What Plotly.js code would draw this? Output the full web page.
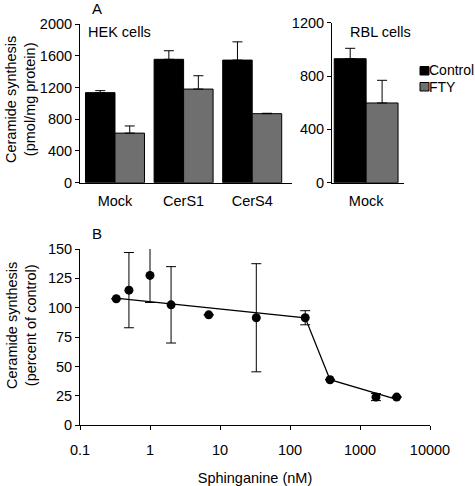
<!DOCTYPE html>
<html>
<head>
<meta charset="utf-8">
<script src="https://cdn.plot.ly/plotly-3.0.1.min.js"></script>
<style>html,body{margin:0;padding:0;background:#fff;}#chart{width:475px;height:486px;}</style>
</head>
<body>
<div id="chart"></div>
<script>
// ---- Data ----
const hekCategories = ['Mock', 'CerS1', 'CerS4'];
const hekControl = [1135, 1555, 1545];
const hekControlErr = [25, 108, 230];
const hekFTY = [625, 1180, 870];
const hekFTYErr = [90, 168, 5];

const rblCategories = ['Mock'];
const rblControl = [930];
const rblControlErr = [78];
const rblFTY = [598];
const rblFTYErr = [170];

const sphinganine = [0.33, 0.5, 1, 2, 6.9, 33, 165, 373, 1690, 3340];
const percentControl = [107.7, 115, 127.5, 102.5, 94, 91.5, 91.5, 38.8, 24, 24];
const percentErr = [0, 32, 23, 32.5, 0, 46, 6, 0, 3, 0];

const fitX = [0.35, 165, 373, 3340];
const fitY = [108, 91.5, 38.8, 22];

const xTickVals = [0.1, 1, 10, 100, 1000, 10000];
const xTickText = ['0.1', '1', '10', '100', '1000', '10000'];

const yTitleA = 'Ceramide synthesis<br>(pmol/mg protein)';
const yTitleB = 'Ceramide synthesis<br>(percent of control)';

// ---- Styles ----
const FONT = 'Liberation Sans, Arial, sans-serif';
const W = 475, H = 486;
const px = v => v / W;
const py = v => 1 - v / H;
const zeros = n => new Array(n).fill(0);
const ctrlColor = '#000000';
const ftyColor = '#6f6f6f';
const bw = 0.43;

function errUp(arr) {
  return {type: 'data', symmetric: false, array: arr, arrayminus: zeros(arr.length),
          color: '#000', thickness: 1, width: 5};
}

const traces = [
  {type: 'bar', name: 'Control', x: hekCategories, y: hekControl, xaxis: 'x', yaxis: 'y',
   width: bw, offset: -bw, marker: {color: ctrlColor, line: {color: '#000', width: 1}},
   error_y: errUp(hekControlErr), showlegend: false},
  {type: 'bar', name: 'FTY', x: hekCategories, y: hekFTY, xaxis: 'x', yaxis: 'y',
   width: bw, offset: 0, marker: {color: ftyColor, line: {color: '#000', width: 1}},
   error_y: errUp(hekFTYErr), showlegend: false},
  {type: 'bar', name: 'Control', x: rblCategories, y: rblControl, xaxis: 'x2', yaxis: 'y2',
   width: bw, offset: -bw, marker: {color: ctrlColor, line: {color: '#000', width: 1}},
   error_y: errUp(rblControlErr), showlegend: false},
  {type: 'bar', name: 'FTY', x: rblCategories, y: rblFTY, xaxis: 'x2', yaxis: 'y2',
   width: bw, offset: 0, marker: {color: ftyColor, line: {color: '#000', width: 1}},
   error_y: errUp(rblFTYErr), showlegend: false},
  {type: 'scatter', mode: 'lines', x: fitX, y: fitY, xaxis: 'x3', yaxis: 'y3',
   line: {color: '#000', width: 1.3}, showlegend: false, hoverinfo: 'skip'},
  {type: 'scatter', mode: 'markers', x: sphinganine, y: percentControl, xaxis: 'x3', yaxis: 'y3',
   marker: {color: '#000', size: 9},
   error_y: {type: 'data', array: percentErr, color: '#000', thickness: 1, width: 5},
   showlegend: false}
];

const tickFont = {family: FONT, size: 14.5, color: '#000'};
const titleFont = {family: FONT, size: 14.5, color: '#000'};

const layout = {
  width: W, height: H,
  margin: {l: 0, r: 0, t: 0, b: 0},
  paper_bgcolor: '#fff', plot_bgcolor: '#fff',
  barmode: 'overlay',
  showlegend: false,
  font: {family: FONT, color: '#000'},
  xaxis: {domain: [px(80), px(292)], range: [-0.51, 2.58], anchor: 'y',
          showline: true, linecolor: '#000', linewidth: 1, ticks: '', showgrid: false,
          zeroline: false, tickfont: tickFont, ticklabelstandoff: 5},
  yaxis: {domain: [py(182.7), py(24)], range: [0, 2000], anchor: 'x',
          tickvals: [0, 400, 800, 1200, 1600, 2000],
          showline: true, linecolor: '#000', linewidth: 1, ticks: 'outside', ticklen: 4,
          tickcolor: '#000', showgrid: false, zeroline: false, tickfont: tickFont},
  xaxis2: {domain: [px(332), px(404)], range: [-0.46, 0.51], anchor: 'y2',
          showline: true, linecolor: '#000', linewidth: 1, ticks: '', showgrid: false,
          zeroline: false, tickfont: tickFont, ticklabelstandoff: 5},
  yaxis2: {domain: [py(182.7), py(22.7)], range: [0, 1200], anchor: 'x2',
          tickvals: [0, 400, 800, 1200],
          showline: true, linecolor: '#000', linewidth: 1, ticks: 'outside', ticklen: 4,
          tickcolor: '#000', showgrid: false, zeroline: false, tickfont: tickFont},
  xaxis3: {domain: [px(80), px(430)], type: 'log', range: [-1, 4], anchor: 'y3',
          tickvals: xTickVals, ticktext: xTickText,
          showline: true, linecolor: '#000', linewidth: 1, ticks: 'outside', ticklen: 4,
          tickcolor: '#000', showgrid: false, zeroline: false, tickfont: tickFont,
          ticklabelstandoff: 7,
          title: {text: 'Sphinganine (nM)', font: titleFont, standoff: 17}},
  yaxis3: {domain: [py(425.3), py(249)], range: [0, 150], anchor: 'x3',
          tickvals: [0, 25, 50, 75, 100, 125, 150],
          showline: true, linecolor: '#000', linewidth: 1, ticks: 'outside', ticklen: 4,
          tickcolor: '#000', showgrid: false, zeroline: false, tickfont: tickFont},
  shapes: [
    {type: 'rect', xref: 'paper', yref: 'paper', x0: px(420), x1: px(429), y0: py(75), y1: py(66.5),
     fillcolor: ctrlColor, line: {color: '#000', width: 1}},
    {type: 'rect', xref: 'paper', yref: 'paper', x0: px(420), x1: px(429), y0: py(91), y1: py(82.5),
     fillcolor: ftyColor, line: {color: '#000', width: 1}}
  ],
  annotations: [
    {text: yTitleA, xref: 'paper', yref: 'paper', x: px(21), y: py(100), showarrow: false,
     textangle: -90, xanchor: 'center', yanchor: 'middle', borderpad: 0, font: titleFont},
    {text: yTitleB, xref: 'paper', yref: 'paper', x: px(21), y: py(326), showarrow: false,
     textangle: -90, xanchor: 'center', yanchor: 'middle', borderpad: 0, font: titleFont},
    {text: 'A', xref: 'paper', yref: 'paper', x: px(97), y: py(8), showarrow: false,
     xanchor: 'center', yanchor: 'middle', font: {family: FONT, size: 15, color: '#000'}},
    {text: 'HEK cells', xref: 'paper', yref: 'paper', x: px(86), y: py(32), showarrow: false,
     xanchor: 'left', yanchor: 'middle', font: {family: FONT, size: 14.5, color: '#000'}},
    {text: 'RBL cells', xref: 'paper', yref: 'paper', x: px(348), y: py(32), showarrow: false,
     xanchor: 'left', yanchor: 'middle', font: {family: FONT, size: 14.5, color: '#000'}},
    {text: 'Control', xref: 'paper', yref: 'paper', x: px(428), y: py(70.5), showarrow: false,
     xanchor: 'left', yanchor: 'middle', borderpad: 0, font: {family: FONT, size: 14, color: '#000'}},
    {text: 'FTY', xref: 'paper', yref: 'paper', x: px(428), y: py(87), showarrow: false,
     xanchor: 'left', yanchor: 'middle', borderpad: 0, font: {family: FONT, size: 14, color: '#000'}},
    {text: 'B', xref: 'paper', yref: 'paper', x: px(97), y: py(234), showarrow: false,
     xanchor: 'center', yanchor: 'middle', font: {family: FONT, size: 15, color: '#000'}}
  ]
};

Plotly.newPlot('chart', traces, layout, {displayModeBar: false, staticPlot: true});
</script>
</body>
</html>
